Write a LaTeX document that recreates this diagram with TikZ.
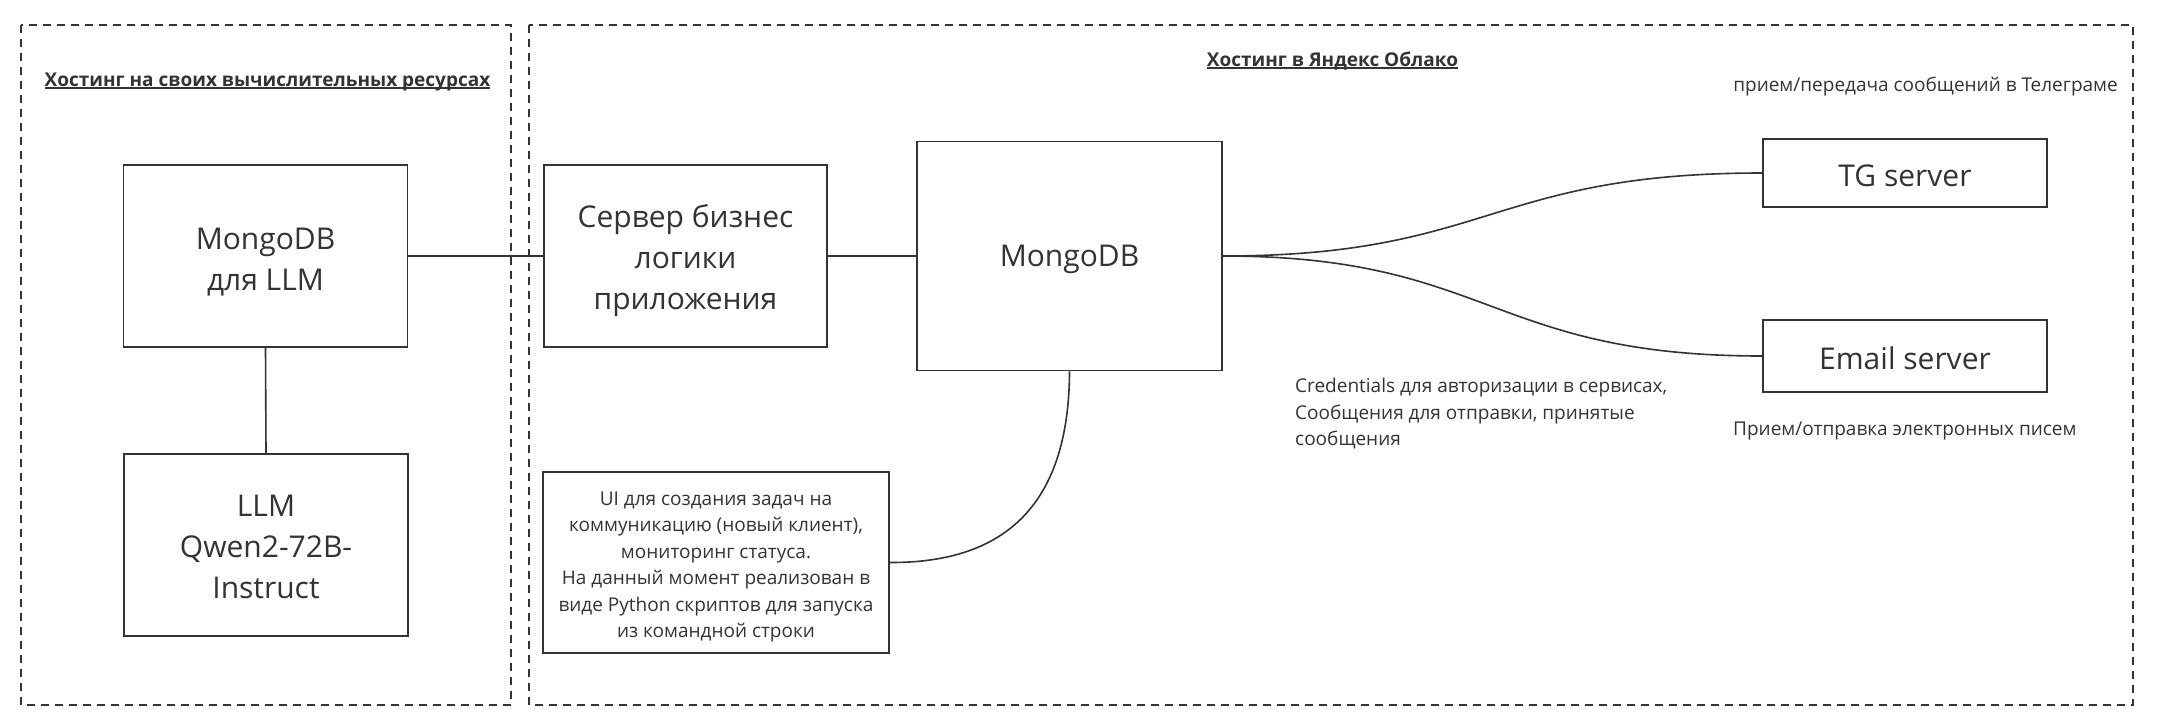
\documentclass[tikz,border=0pt]{standalone}
\usepackage{fontspec}
\setmainfont{Open Sans}
\definecolor{ink}{HTML}{333333}
\newcommand\ulined[1]{\setbox0\hbox{#1}\rlap{\rule[-3pt]{\wd0}{1.6pt}}\box0}
\newcommand\strutto[1]{\rule{0pt}{#1}}
\tikzset{
  box/.style={draw=ink, line width=1.6pt, inner sep=0pt, align=center, text=ink,
    font=\fontsize{30}{41}\selectfont},
  lift/.style={execute at begin node={\rule{0pt}{28pt}}},
  zone/.style={draw=ink, line width=1.4pt, dash pattern=on 8pt off 6pt},
  wire/.style={draw=ink, line width=1.6pt},
  lbl/.style={inner sep=0pt, text=ink, font=\fontsize{19}{26.5}\selectfont},
  ttl/.style={inner sep=0pt, text=ink, font=\bfseries\fontsize{19}{24}\selectfont}
}
\begin{document}
\begin{tikzpicture}[x=1pt,y=-1pt]
\useasboundingbox (0,0) rectangle (2157,724);
% hosting zones
\draw[zone] (21,25) rectangle (511,705);
\draw[zone] (529,25) rectangle (2133,705);
\node[ttl, anchor=base] (t1) at (267.5,86) {\ulined{Хостинг на своих вычислительных ресурсах}};
\node[ttl, anchor=base] (t2) at (1332.5,66) {\ulined{Хостинг в Яндекс Облако}};
% boxes
\node[box, minimum width=284pt, minimum height=182pt] (mllm) at (265.5,256) {\strutto{33pt}MongoDB\\для LLM};
\node[box, minimum width=284pt, minimum height=182pt] (llm) at (266,545) {\strutto{26pt}LLM\\Qwen2-72B-\\Instruct};
\node[box, minimum width=283pt, minimum height=182pt] (srv) at (685.5,256) {\strutto{33pt}Сервер бизнес\\логики\\приложения};
\node[box, lift, minimum width=305pt, minimum height=229pt] (mdb) at (1069.5,256) {MongoDB};
\node[box, lift, minimum width=284pt, minimum height=68pt] (tg) at (1905,173) {TG server};
\node[box, lift, minimum width=284pt, minimum height=72pt] (email) at (1905,356) {Email server};
\node[box, minimum width=346pt, minimum height=181pt, font=\fontsize{19}{26.4}\selectfont] (ui) at (716,562.5)
  {\\[-4pt]UI для создания задач на\\коммуникацию (новый клиент),\\мониторинг статуса.\\На данный момент реализован в\\виде Python скриптов для запуска\\из командной строки};
% labels
\node[lbl, anchor=base east] (tgl) at (2118,91) {прием/передача сообщений в Телеграме};
\node[lbl, anchor=base west] (eml) at (1733,435) {Прием/отправка электронных писем};
\node[lbl, anchor=north west, align=left] (cred) at (1295,378)
  {Credentials для авторизации в сервисах,\\Сообщения для отправки, принятые\\сообщения};
% connectors
\draw[wire] (mllm.south) -- (llm.north);
\draw[wire] (mllm.east) -- (srv.west);
\draw[wire] (srv.east) -- (mdb.west);
\draw[wire] (mdb.east) .. controls (1490,256) and (1490,173) .. (tg.west);
\draw[wire] (mdb.east) .. controls (1490,256) and (1490,356) .. (email.west);
\draw[wire] (mdb.south) .. controls (1069,510) and (1000,563) .. (ui.east);
\end{tikzpicture}
\end{document}
